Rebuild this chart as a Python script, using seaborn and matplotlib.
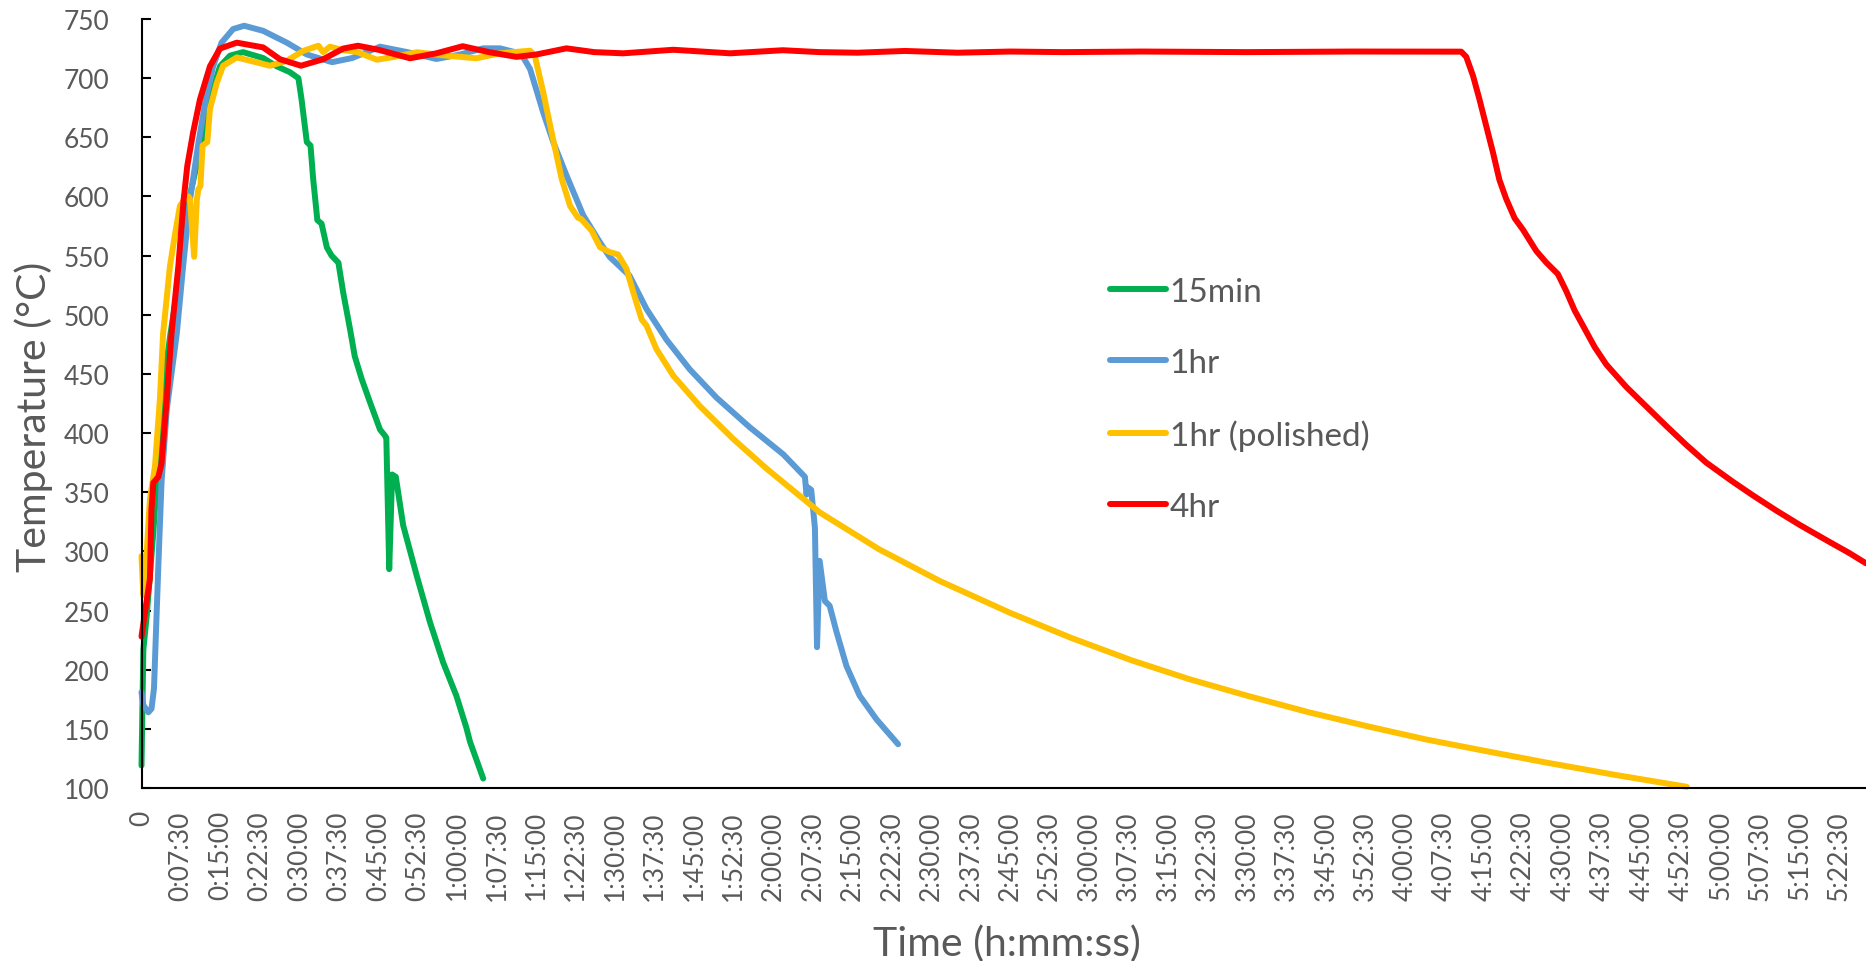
import numpy as np
import pandas as pd
import matplotlib
matplotlib.use("Agg")
import matplotlib.pyplot as plt
import seaborn as sns
from matplotlib.ticker import MultipleLocator, FuncFormatter

sns.set_theme(style="white")
plt.rcParams["font.family"] = ["Lato", "DejaVu Sans"]

# ---- data (time in minutes, temperature in °C) ----
series_names = ["15min", "1hr", "1hr (polished)", "4hr"]
series_colors = ["#00B050", "#5B9BD5", "#FFC000", "#FF0000"]

green_t = [0, 0.35, 1.0, 2.24, 2.9, 3.8, 5.5, 7.5, 9.0, 11.4, 13.0, 14.9, 16.8, 19.3, 23.1, 25.7,
           28.2, 29.8, 30.4, 31.4, 32.1, 32.6, 33.4, 34.2, 35.2, 36.1, 37.4, 38.3, 39.6, 40.5,
           41.8, 43.4, 45.3, 46.2, 46.5, 47.05, 47.6, 48.3, 49.7, 52.3, 54.8, 57.3, 59.8, 61.7,
           62.4, 64.9]
green_T = [119, 217, 246, 316, 358, 429, 484, 541, 597, 645, 682, 710, 719, 722, 717, 710,
           705, 700, 682, 646, 643, 615, 580, 577, 557, 550, 544, 519, 488, 465,
           446, 426, 403, 398, 396, 285, 365, 363, 322, 279, 240, 206, 178, 151,
           139, 108]

blue_t = [0, 0.35, 1.3, 1.9, 2.37, 2.75, 3.2, 3.8, 4.8, 6.7, 7.9, 9.2, 10.8, 12.2, 13.6, 15.2,
          17.4, 19.5, 23.1, 27.6, 31.4, 36.2, 40.0, 45.3, 50.5, 56.0, 60.5, 64.9, 68.1, 71.2,
          72.5, 73.8, 76.3, 78.2, 80.7, 83.9, 87.1, 88.9, 92.7, 95.9, 99.7, 104.1, 109.2, 115.5,
          121.9, 126.0, 126.3, 126.6, 127.2, 127.9, 128.3, 128.8, 129.8, 130.7, 132.0, 133.9,
          136.4, 139.6, 143.7]
blue_T = [181, 170, 164, 167, 184, 232, 288, 358, 420, 484, 541, 597, 645, 682, 710, 730,
          741.5, 744.3, 740, 730, 720, 713.5, 717, 726.6, 722, 716.2, 720, 725.2, 725.2, 721.7,
          717.6, 707.7, 671, 646, 618, 584, 561, 549, 533, 505, 479, 454, 430, 405,
          382, 363, 348, 354, 352, 320, 219, 292, 258, 254, 232, 203,
          178, 158, 137]

yellow_t = [0, 0.35, 1.0, 1.6, 2.56, 3.5, 4.1, 5.4, 6.4, 7.3, 8.2, 8.9, 9.2, 10.0, 10.5, 10.8,
            11.2, 11.6, 12.5, 13.0, 14.3, 15.5, 18.1, 21.9, 24.4, 27.6, 30.7, 33.6, 34.5, 35.8,
            38.0, 41.0, 44.7, 48.0, 52.3, 58.0, 63.6, 68.1, 73.8, 74.7, 76.3, 77.9, 79.8, 81.4,
            82.9, 83.5, 85.5, 87.1, 88.9, 90.5, 92.1, 93.4, 95.0, 95.9, 97.8, 101.0, 106.0,
            112.4, 118.7, 125.0, 128.8, 140.0, 151.6, 165.0, 176.5, 188.0, 199.0, 210.0, 221.7,
            233.0, 244.0, 255.0, 266.8, 280.0, 293.5]
yellow_T = [296, 263, 300, 344, 372, 429, 484, 541, 569, 592, 598, 600, 598, 549, 597, 606,
            609, 643, 646, 674, 696, 710.5, 717.5, 713.3, 710.5, 714.7, 723, 727.4, 722, 726.6,
            724, 722, 715.6, 718, 721.9, 719, 716.8, 721, 723.2, 719, 688, 654, 615, 592,
            582, 581, 571, 557, 553, 551, 539, 519, 496, 491, 471, 448.5, 423,
            395, 370, 347, 333, 302, 275, 248, 227, 208, 192, 178, 164,
            152, 141, 131.5, 121.5, 111, 101]

red_t = [0, 0.66, 1.6, 1.9, 2.25, 3.2, 3.8, 4.8, 5.7, 7.0, 8.0, 8.7, 9.8, 11.1, 13.0, 14.9,
         18.1, 23.1, 26.3, 30.3, 34.5, 38.3, 41.1, 45.0, 51.0, 56.0, 61.0, 66.0, 71.2, 75.0,
         80.7, 86.0, 91.5, 101.0, 111.8, 121.8, 128.8, 136.0, 145.0, 155.0, 165.0, 175.0, 190.0,
         210.0, 230.0, 250.65, 251.6, 252.9, 254.1, 255.4, 256.7, 257.9, 259.2, 260.8, 262.4,
         264.9, 266.8, 269.0, 270.6, 272.2, 274.4, 276.0, 278.2, 282.0, 285.8, 289.6, 293.4,
         297.2, 302.2, 306.0, 310.5, 314.9, 320.0, 324.4, 327.5]
red_T = [228, 248.5, 277, 336, 358, 363, 374, 429, 484, 541, 597, 626, 654, 682, 710, 725,
         730, 726, 716, 710.5, 716, 725, 727.4, 724, 716.8, 721, 727, 722, 718, 720,
         725.2, 722, 721, 724, 721, 723.6, 722, 721.5, 723, 721.5, 722.5, 722, 722.5,
         722, 722.5, 722.4, 718.1, 701.9, 682.4, 659.6, 636.9, 614.1, 597.9, 581.6, 571.8,
         554, 544.2, 534.5, 520, 503.6, 485.7, 472.7, 458, 439, 422.5, 406, 390,
         375, 359, 347.5, 334.5, 322.5, 309.5, 298.5, 290]

y_ticks = list(range(100, 751, 50))
x_label_step_s = 450      # labels every 0:07:30
x_mark_step_s = 900       # tick marks every 0:15:00
x_max_s = 19652

TEXT = "#595959"

frames = []
for name, t, T in zip(series_names, [green_t, blue_t, yellow_t, red_t],
                      [green_T, blue_T, yellow_T, red_T]):
    frames.append(pd.DataFrame({"Time": np.asarray(t) * 60.0, "Temperature": T, "series": name}))
df = pd.concat(frames, ignore_index=True)

W, H = 1866, 962
fig = plt.figure(figsize=(W / 100, H / 100), dpi=100)
x0, x1, ytop, ybot = 141.5, 1866, 20, 789
ax = fig.add_axes([x0 / W, 1 - ybot / H, (x1 - x0) / W, (ybot - ytop) / H])

sns.lineplot(data=df, x="Time", y="Temperature", hue="series", hue_order=series_names,
             palette=series_colors, sort=False, estimator=None, lw=4.3, ax=ax,
             solid_joinstyle="round", solid_capstyle="round", clip_on=False)

ax.set_xlim(0, x_max_s)
ax.set_ylim(100, 750)
ax.set_yticks(y_ticks)

def fmt(v, pos):
    s = int(round(v))
    if s == 0:
        return "0"
    return f"{s // 3600}:{(s % 3600) // 60:02d}:{s % 60:02d}"

ax.xaxis.set_major_locator(MultipleLocator(x_label_step_s))
ax.xaxis.set_major_formatter(FuncFormatter(fmt))
ax.xaxis.set_minor_locator(MultipleLocator(x_mark_step_s))

for s in ["top", "right"]:
    ax.spines[s].set_visible(False)
for s in ["left", "bottom"]:
    ax.spines[s].set_color("black")
    ax.spines[s].set_linewidth(1.5)

ax.tick_params(axis="x", which="major", length=0, pad=16, labelsize=19,
               labelcolor=TEXT, labelrotation=90)
ax.tick_params(axis="x", which="minor", direction="in", length=6.5, width=1.5, color="black",
               bottom=True)
ax.tick_params(axis="y", which="major", direction="in", length=6.5, width=1.5, color="black",
               pad=23, labelsize=19, labelcolor=TEXT, left=True)

ax.set_xlabel("Time (h:mm:ss)", fontsize=29.5, color=TEXT, va="center")
ax.set_ylabel("Temperature (°C)", fontsize=29.5, color=TEXT, va="center")
ax.xaxis.set_label_coords(0.502, -0.2016)
ax.yaxis.set_label_coords(-0.0625, 0.484)

leg = ax.get_legend()
handles = leg.legend_handles
labels = [t.get_text() for t in leg.get_texts()]
leg.remove()
for h in handles:
    h.set_linewidth(4.3)
    h.set_solid_capstyle("round")
lg = ax.legend(handles, labels, loc="upper left", bbox_to_anchor=(1110 / W, 1 - 278 / H),
               bbox_transform=fig.transFigure, frameon=False, fontsize=24,
               handlelength=1.67, handletextpad=0.12, labelspacing=1.23,
               borderaxespad=0, borderpad=0)
for t in lg.get_texts():
    t.set_color(TEXT)

fig.savefig("out.png", dpi=100)
